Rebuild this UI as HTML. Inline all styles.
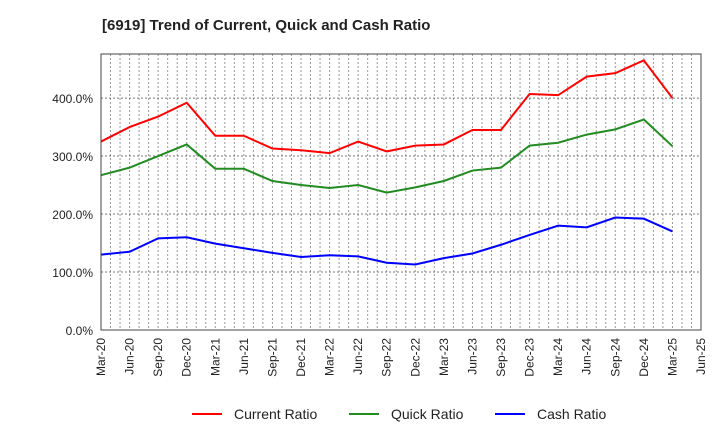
<!DOCTYPE html>
<html><head><meta charset="utf-8"><style>
body{margin:0;background:#fff;font-family:"Liberation Sans",sans-serif}
</style></head><body>
<svg id="c" width="720" height="440" xmlns="http://www.w3.org/2000/svg">
<text x="102" y="30" font-size="15" font-weight="bold" fill="#222">[6919]  Trend of Current, Quick and Cash Ratio</text>
<g id="grid"></g><g id="series"></g><g id="axes"></g>
<g>
<line x1="192" y1="414" x2="222" y2="414" stroke="#ff0000" stroke-width="2"/><text x="234" y="419" font-size="14" fill="#222">Current Ratio</text>
<line x1="349" y1="414" x2="379" y2="414" stroke="#228b22" stroke-width="2"/><text x="391" y="419" font-size="14" fill="#222">Quick Ratio</text>
<line x1="495" y1="414" x2="525" y2="414" stroke="#0000ff" stroke-width="2"/><text x="537" y="419" font-size="14" fill="#222">Cash Ratio</text>
</g>
</svg>
<script>
const categories=["Mar-20","Jun-20","Sep-20","Dec-20","Mar-21","Jun-21","Sep-21","Dec-21","Mar-22","Jun-22","Sep-22","Dec-22","Mar-23","Jun-23","Sep-23","Dec-23","Mar-24","Jun-24","Sep-24","Dec-24","Mar-25","Jun-25"];
const currentRatio=[325,350,368,392,335,335,313,310,305,325,308,318,320,345,345,407,405,437,443,465,400];
const quickRatio=[267,280,300,320,278,278,257,250,245,250,237,246,257,275,280,318,323,337,346,363,317];
const cashRatio=[130,135,158,160,149,141,133,126,129,127,116,113,124,132,147,164,180,177,194,192,170];
const yTicks=[0,100,200,300,400];
const X0=101,X1=701,Y0=330,Y1=54,YMAX=476;
const xs=i=>X0+(X1-X0)*i/(categories.length-1);
const ys=v=>Y0-(Y0-Y1)*v/YMAX;
const NS="http://www.w3.org/2000/svg";
function mk(t,a,p){const e=document.createElementNS(NS,t);for(const k in a)e.setAttribute(k,a[k]);p.appendChild(e);return e;}
const grid=document.getElementById('grid'),axes=document.getElementById('axes'),ser=document.getElementById('series');
for(let m=1;m<(categories.length-1)*3;m++){const x=X0+(X1-X0)*m/((categories.length-1)*3);
const l=mk('line',{x1:x,x2:x,y1:Y1,y2:Y0,stroke:'#999','stroke-dasharray':'2,2','stroke-width':1},grid);

}
yTicks.forEach(v=>{const y=ys(v);
if(v>0){const g=mk('line',{x1:X0,x2:X1,y1:y,y2:y,stroke:'#777','stroke-dasharray':'2,2'},grid);

}
const t=mk('text',{x:X0-8,y:y+5,'font-size':12,'text-anchor':'end',fill:'#222'},axes);t.textContent=v.toFixed(1)+'%';

});
categories.forEach((c,i)=>{const x=xs(i);
const t=mk('text',{x:x+4,y:Y0+8,'font-size':12,'text-anchor':'end',fill:'#222',transform:`rotate(-90 ${x+4} ${Y0+8})`},axes);t.textContent=c;

});
const f=mk('rect',{x:X0,y:Y1,width:X1-X0,height:Y0-Y1,fill:'none',stroke:'#444'},axes);


[[currentRatio,'#ff0000','current-ratio-line'],[quickRatio,'#228b22','quick-ratio-line'],[cashRatio,'#0000ff','cash-ratio-line']].forEach(([d,c,n])=>{
const p=mk('polyline',{points:d.map((v,i)=>xs(i)+','+ys(v)).join(' '),fill:'none',stroke:c,'stroke-width':2},ser);

});
</script>
</body></html>
